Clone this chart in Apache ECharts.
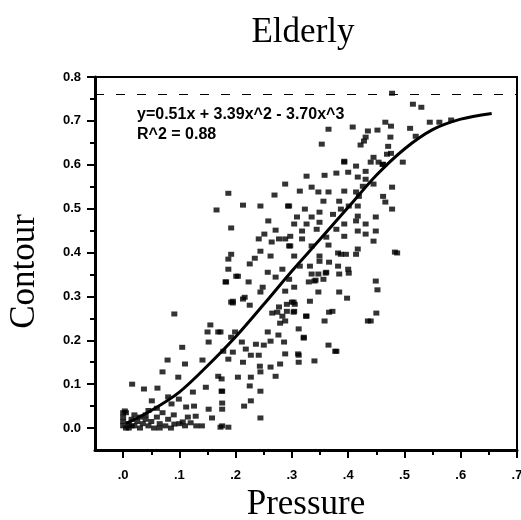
<!DOCTYPE html>
<html>
<head>
<meta charset="utf-8">
<script src="https://cdn.jsdelivr.net/npm/echarts@6/dist/echarts.min.js"></script>
<style>html,body{margin:0;padding:0;background:#fff}#c{width:521px;height:520px}</style>
</head>
<body>
<div id="c"></div>
<script>
const titleText = 'Elderly';
const xName = 'Pressure';
const yName = 'Contour';
const equationText = 'y=0.51x + 3.39x^2 - 3.70x^3';
const r2Text = 'R^2 = 0.88';
const xMajorTicks = [0, 0.1, 0.2, 0.3, 0.4, 0.5, 0.6, 0.7];
const xTickLabels = ['.0', '.1', '.2', '.3', '.4', '.5', '.6', '.7'];
const xMinorTicks = [0.05, 0.15, 0.25, 0.35, 0.45, 0.55, 0.65];
const yMajorTicks = [0, 0.1, 0.2, 0.3, 0.4, 0.5, 0.6, 0.7, 0.8];
const yTickLabels = ['0.0', '0.1', '0.2', '0.3', '0.4', '0.5', '0.6', '0.7', '0.8'];
const yMinorTicks = [0.05, 0.15, 0.25, 0.35, 0.45, 0.55, 0.65, 0.75];
const artifactLine = [0.763];

const fitX = [0.005, 0.05, 0.1, 0.15, 0.2, 0.25, 0.3, 0.35, 0.4, 0.45, 0.5, 0.55, 0.6, 0.655];
const fitY = [0.01, 0.04, 0.082, 0.142, 0.208, 0.282, 0.358, 0.43, 0.503, 0.576, 0.636, 0.68, 0.704, 0.717];

const scatterPoints = [
[0.091,0.26],[0.155,0.235],[0.150,0.219],[0.169,0.219],[0.152,0.196],[0.105,0.184],[0.141,0.155],[0.079,0.155],
[0.110,0.146],[0.070,0.128],[0.098,0.116],[0.169,0.118],[0.016,0.10],[0.037,0.089],[0.061,0.091],[0.124,0.082],
[0.147,0.093],[0.176,0.084],[0.080,0.071],[0.099,0.066],[0.051,0.062],[0.086,0.055],[0.112,0.048],[0.126,0.050],
[0.152,0.043],[0.003,0.039],[0.176,0.043],[0.091,0.009],[0.110,0.005],[0.130,0.005],[0.140,0.005],[0.176,0.005],
[0.158,0.023],[0.129,0.027],[0.106,0.014],
[0.0,0.005],[0.0,0.015],[0.0,0.025],[0.005,0.035],[0.01,0.0],[0.01,0.01],[0.015,0.02],[0.02,0.005],[0.025,0.015],
[0.03,0.0],[0.03,0.025],[0.035,0.01],[0.04,0.03],[0.045,0.005],[0.05,0.015],[0.055,0.0],[0.06,0.025],[0.065,0.01],
[0.07,0.035],[0.075,0.005],[0.08,0.02],[0.085,0.0],[0.09,0.03],[0.10,0.01],[0.06,0.045],[0.045,0.04],[0.02,0.03],
[0.0,0.035],[0.115,0.025],[0.12,0.012],[0.04,0.02],[0.005,0.0],[0.065,0.0],[0.015,0.005],
[0.195,0.285],[0.225,0.28],[0.277,0.276],[0.291,0.282],[0.303,0.287],[0.265,0.262],[0.283,0.255],[0.303,0.264],
[0.326,0.255],[0.366,0.264],[0.279,0.239],[0.358,0.244],[0.312,0.226],[0.173,0.219],[0.199,0.219],[0.192,0.207],
[0.257,0.219],[0.276,0.212],[0.321,0.207],[0.211,0.196],[0.236,0.191],[0.25,0.189],[0.262,0.198],[0.286,0.196],
[0.365,0.189],[0.178,0.175],[0.195,0.173],[0.218,0.18],[0.227,0.166],[0.241,0.166],[0.288,0.169],[0.311,0.169],
[0.187,0.157],[0.213,0.150],[0.243,0.141],[0.262,0.139],[0.279,0.146],[0.312,0.150],[0.340,0.153],[0.244,0.128],
[0.204,0.116],[0.227,0.116],[0.271,0.118],[0.175,0.112],[0.225,0.096],[0.244,0.084],[0.175,0.084],[0.227,0.062],
[0.176,0.057],[0.215,0.05],[0.244,0.023],[0.173,0.002],[0.187,0.002],
[0.393,0.606],[0.414,0.597],[0.431,0.585],[0.461,0.601],[0.44,0.606],[0.326,0.574],[0.358,0.576],[0.379,0.581],
[0.4,0.583],[0.417,0.572],[0.431,0.567],[0.426,0.551],[0.445,0.556],[0.478,0.549],[0.314,0.54],[0.335,0.549],
[0.347,0.538],[0.365,0.538],[0.393,0.54],[0.414,0.538],[0.356,0.517],[0.384,0.517],[0.419,0.528],[0.462,0.528],
[0.295,0.506],[0.323,0.499],[0.349,0.492],[0.387,0.499],[0.401,0.506],[0.417,0.506],[0.466,0.515],[0.478,0.499],
[0.309,0.481],[0.335,0.481],[0.373,0.487],[0.417,0.483],[0.449,0.481],[0.304,0.465],[0.326,0.465],[0.349,0.469],
[0.393,0.465],[0.414,0.472],[0.431,0.465],[0.318,0.449],[0.344,0.453],[0.379,0.453],[0.417,0.449],[0.449,0.449],
[0.297,0.437],[0.318,0.431],[0.361,0.435],[0.393,0.437],[0.431,0.442],[0.445,0.426],[0.297,0.415],[0.335,0.415],
[0.365,0.417],[0.417,0.408],[0.483,0.401],[0.304,0.392],[0.349,0.392],[0.387,0.396],[0.396,0.396],[0.414,0.396],
[0.314,0.369],[0.332,0.369],[0.349,0.380],[0.382,0.369],[0.4,0.362],[0.335,0.351],[0.347,0.351],[0.361,0.355],
[0.384,0.351],[0.340,0.335],[0.356,0.339],[0.449,0.335],
[0.384,0.31],[0.398,0.296],[0.372,0.266],[0.45,0.262],[0.435,0.244],[0.44,0.244],[0.377,0.175],
[0.487,0.399],[0.452,0.315],[0.379,0.175],[0.312,0.166],[0.321,0.205],[0.325,0.255],[0.347,0.31],[0.332,0.289],
[0.304,0.266],[0.3,0.287],[0.342,0.337],[0.36,0.353],[0.401,0.353],[0.382,0.399],[0.366,0.378],[0.33,0.333],[0.304,0.321],
[0.288,0.556],[0.269,0.531],[0.293,0.506],[0.244,0.506],[0.213,0.508],[0.187,0.535],[0.166,0.497],[0.258,0.472],
[0.192,0.456],[0.271,0.451],[0.251,0.442],[0.277,0.431],[0.288,0.431],[0.241,0.431],[0.264,0.424],[0.295,0.415],
[0.244,0.403],[0.234,0.387],[0.262,0.392],[0.192,0.396],[0.187,0.385],[0.187,0.362],[0.225,0.374],[0.204,0.346],
[0.257,0.355],[0.271,0.344],[0.283,0.362],[0.183,0.333],[0.223,0.333],[0.248,0.321],[0.244,0.31],[0.216,0.298],
[0.195,0.289],[0.295,0.339],[0.288,0.312],
[0.515,0.738],[0.53,0.731],[0.545,0.697],[0.562,0.697],[0.583,0.702],[0.365,0.681],[0.408,0.686],[0.435,0.677],
[0.452,0.679],[0.466,0.697],[0.476,0.688],[0.51,0.683],[0.52,0.665],[0.431,0.663],[0.428,0.654],[0.475,0.663],
[0.353,0.647],[0.471,0.642],[0.422,0.645],[0.469,0.624],[0.476,0.626],[0.393,0.608],[0.445,0.617],[0.454,0.606],
[0.462,0.601],[0.497,0.606],[0.478,0.763],
[0.192,0.287],[0.182,0.333],[0.201,0.346],[0.213,0.294],[0.274,0.264],[0.288,0.244],[0.291,0.266],[0.305,0.282]
];

const chart = echarts.init(document.getElementById('c'), null, {renderer: 'canvas'});
const serif = '"Liberation Serif", "DejaVu Serif", serif';
const sans = '"Liberation Sans", Arial, sans-serif';
const fitData = fitX.map((x, i) => [x, fitY[i]]);

chart.setOption({
  animation: false,
  backgroundColor: '#fff',
  title: {
    text: titleText, left: 298, top: 10, textAlign: 'center',
    textStyle: {fontFamily: serif, fontSize: 35, fontWeight: 'normal', color: '#000'}
  },
  grid: {left: 95, right: 4, top: 77, bottom: 70, show: true, borderColor: '#000', borderWidth: 2,
    backgroundColor: 'transparent', containLabel: false, outerBoundsMode: 'none'},
  graphic: [
    {type: 'text', left: 137, top: 107, style: {text: equationText, fontFamily: sans, fontWeight: 'bold', fontSize: 16, fill: '#000'}},
    {type: 'text', left: 137, top: 127, style: {text: r2Text, fontFamily: sans, fontWeight: 'bold', fontSize: 16, fill: '#000'}}
  ],
  xAxis: [
    {
      type: 'value', min: -0.05, max: 0.7, position: 'bottom',
      name: xName, nameLocation: 'middle', nameGap: 28,
      nameTextStyle: {fontFamily: serif, fontSize: 35, color: '#000'},
      axisLine: {show: true, onZero: false, lineStyle: {color: '#000', width: 3}},
      axisTick: {show: true, customValues: xMajorTicks, length: 8, inside: false, lineStyle: {color: '#000', width: 2}},
      axisLabel: {show: true, customValues: xMajorTicks, margin: 19, color: '#000', fontFamily: sans, fontWeight: 'bold', fontSize: 13,
        formatter: v => { const i = xMajorTicks.findIndex(t => Math.abs(t - v) < 1e-6); return i >= 0 ? xTickLabels[i] : ''; }},
      splitLine: {show: false}
    },
    {
      type: 'value', min: -0.05, max: 0.7, position: 'bottom',
      axisLine: {show: false, onZero: false},
      axisTick: {show: true, customValues: xMinorTicks, length: 5, lineStyle: {color: '#000', width: 2}},
      axisLabel: {show: false},
      splitLine: {show: false}
    }
  ],
  yAxis: [
    {
      type: 'value', min: -0.05, max: 0.8, position: 'left',
      name: yName, nameLocation: 'middle', nameGap: 53, nameRotate: 90,
      nameTextStyle: {fontFamily: serif, fontSize: 35, color: '#000', padding: [0, 16, 0, 0]},
      axisLine: {show: true, onZero: false, lineStyle: {color: '#000', width: 3}},
      axisTick: {show: true, customValues: yMajorTicks, length: 8, lineStyle: {color: '#000', width: 2}},
      axisLabel: {show: true, customValues: yMajorTicks, margin: 14, color: '#000', fontFamily: sans, fontWeight: 'bold', fontSize: 13,
        formatter: v => { const i = yMajorTicks.findIndex(t => Math.abs(t - v) < 1e-6); return i >= 0 ? yTickLabels[i] : ''; }},
      splitLine: {show: false}
    },
    {
      type: 'value', min: -0.05, max: 0.8, position: 'left',
      axisLine: {show: false, onZero: false},
      axisTick: {show: true, customValues: yMinorTicks, length: 5, lineStyle: {color: '#000', width: 2}},
      axisLabel: {show: false},
      splitLine: {show: false}
    }
  ],
  series: [
    {
      type: 'scatter', xAxisIndex: 0, yAxisIndex: 0, data: scatterPoints,
      symbol: 'rect', symbolSize: [6, 5], itemStyle: {color: '#000'}, silent: true,
      markLine: {
        silent: true, symbol: 'none', label: {show: false},
        lineStyle: {color: '#000', width: 1, type: [9, 12]},
        data: artifactLine.map(v => ({yAxis: v}))
      }
    },
    {
      type: 'line', xAxisIndex: 0, yAxisIndex: 0, data: fitData, smooth: 0.3,
      showSymbol: false, lineStyle: {color: '#000', width: 3}, silent: true
    }
  ]
});
</script>
</body>
</html>
